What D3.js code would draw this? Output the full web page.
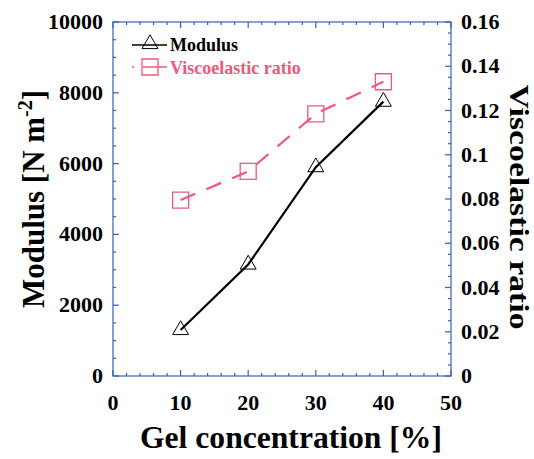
<!DOCTYPE html>
<html>
<head>
<meta charset="utf-8">
<script src="https://cdn.jsdelivr.net/npm/d3@7"></script>
<style>
body { margin: 0; background: #fff; }
text { font-family: "Liberation Serif", "Times New Roman", serif; font-weight: bold; }
</style>
</head>
<body>
<div id="chart"></div>
<script>
var concentration = [10, 20, 30, 40];
var modulus = [1300, 3150, 5900, 7750];
var viscoRatio = [0.0795, 0.0925, 0.1185, 0.133];
var xTicks = [0, 10, 20, 30, 40, 50];
var yLeftTicks = [0, 2000, 4000, 6000, 8000, 10000];
var yRightTicks = [0, 0.02, 0.04, 0.06, 0.08, 0.1, 0.12, 0.14, 0.16];

var width = 534, height = 459;
var plotL = 113, plotR = 451, plotT = 22, plotB = 376;
var axisColor = "#3a5fb0";
var pink = "#f0587a";

var svg = d3.select("#chart").append("svg")
    .attr("width", width)
    .attr("height", height);

var x = d3.scaleLinear().domain([0, 50]).range([plotL, plotR]);
var yL = d3.scaleLinear().domain([0, 10000]).range([plotB, plotT]);
var yR = d3.scaleLinear().domain([0, 0.16]).range([plotB, plotT]);

// frame
svg.append("rect")
    .attr("x", plotL).attr("y", plotT)
    .attr("width", plotR - plotL).attr("height", plotB - plotT)
    .attr("fill", "none").attr("stroke", axisColor).attr("stroke-width", 1.2);

// ticks, pointing inward (bottom + top)
d3.range(0, 51, 2).forEach(function (v) {
    var len = v % 10 === 0 ? 6 : 3;
    svg.append("line").attr("x1", x(v)).attr("x2", x(v))
        .attr("y1", plotB).attr("y2", plotB - len)
        .attr("stroke", axisColor).attr("stroke-width", 1.2);
    svg.append("line").attr("x1", x(v)).attr("x2", x(v))
        .attr("y1", plotT).attr("y2", plotT + len)
        .attr("stroke", axisColor).attr("stroke-width", 1.2);
});

d3.range(0, 10001, 500).forEach(function (v) {
    var len = v % 2000 === 0 ? 6 : 3;
    svg.append("line").attr("x1", plotL).attr("x2", plotL + len)
        .attr("y1", yL(v)).attr("y2", yL(v))
        .attr("stroke", axisColor).attr("stroke-width", 1.2);
});
d3.range(0, 33).forEach(function (i) {
    var v = i * 0.005;
    var len = i % 4 === 0 ? 6 : 3;
    svg.append("line").attr("x1", plotR).attr("x2", plotR - len)
        .attr("y1", yR(v)).attr("y2", yR(v))
        .attr("stroke", axisColor).attr("stroke-width", 1.2);
});

// tick labels
svg.selectAll(".xl").data(xTicks).enter().append("text")
    .attr("x", function (d) { return x(d); })
    .attr("y", 410)
    .attr("text-anchor", "middle")
    .attr("font-size", 22)
    .text(function (d) { return d; });

svg.selectAll(".yl").data(yLeftTicks).enter().append("text")
    .attr("x", 103)
    .attr("y", function (d) { return yL(d) + 7; })
    .attr("text-anchor", "end")
    .attr("font-size", 22)
    .text(function (d) { return d; });

svg.selectAll(".yr").data(yRightTicks).enter().append("text")
    .attr("x", 461)
    .attr("y", function (d) { return yR(d) + 7; })
    .attr("text-anchor", "start")
    .attr("font-size", 22)
    .text(function (d) { return d; });

// axis titles
svg.append("text")
    .attr("x", 291).attr("y", 448)
    .attr("text-anchor", "middle")
    .attr("font-size", 32)
    .attr("textLength", 302).attr("lengthAdjust", "spacingAndGlyphs")
    .text("Gel concentration [%]");

var lt = svg.append("text")
    .attr("transform", "translate(44,199) rotate(-90)")
    .attr("text-anchor", "middle")
    .attr("font-size", 31);
lt.append("tspan").text("Modulus [N m");
lt.append("tspan").attr("dy", -12).attr("font-size", 20).text("-2");
lt.append("tspan").attr("dy", 12).text("]");

svg.append("text")
    .attr("transform", "translate(510,207) rotate(90)")
    .attr("text-anchor", "middle")
    .attr("font-size", 28)
    .attr("textLength", 245).attr("lengthAdjust", "spacingAndGlyphs")
    .text("Viscoelastic ratio");

// series
var modPts = concentration.map(function (c, i) { return [x(c), yL(modulus[i])]; });
var visPts = concentration.map(function (c, i) { return [x(c), yR(viscoRatio[i])]; });

svg.append("path")
    .attr("d", d3.line()(visPts))
    .attr("fill", "none").attr("stroke", pink).attr("stroke-width", 2.2)
    .attr("stroke-dasharray", "16,12");

svg.append("path")
    .attr("d", d3.line()(modPts))
    .attr("fill", "none").attr("stroke", "#000").attr("stroke-width", 2.2);

var tri = d3.symbol().type(d3.symbolTriangle).size(110);
var sq = d3.symbol().type(d3.symbolSquare).size(256);

svg.selectAll(".tri").data(modPts).enter().append("path")
    .attr("transform", function (d) { return "translate(" + d[0] + "," + d[1] + ")"; })
    .attr("d", tri)
    .attr("fill", "none").attr("stroke", "#000").attr("stroke-width", 1);

svg.selectAll(".sq").data(visPts).enter().append("path")
    .attr("transform", function (d) { return "translate(" + d[0] + "," + d[1] + ")"; })
    .attr("d", sq)
    .attr("fill", "none").attr("stroke", pink).attr("stroke-width", 1.3);

// legend
svg.append("line").attr("x1", 132).attr("x2", 167).attr("y1", 45).attr("y2", 45)
    .attr("stroke", "#000").attr("stroke-width", 1.5);
svg.append("path").attr("transform", "translate(150,44)").attr("d", tri)
    .attr("fill", "none").attr("stroke", "#000").attr("stroke-width", 1);
svg.append("text").attr("x", 170).attr("y", 51).attr("font-size", 18).text("Modulus");

svg.append("line").attr("x1", 132).attr("x2", 167).attr("y1", 67).attr("y2", 67)
    .attr("stroke", pink).attr("stroke-width", 1.5).attr("stroke-dasharray", "2,9,30");
svg.append("path").attr("transform", "translate(150,67)").attr("d", sq)
    .attr("fill", "none").attr("stroke", pink).attr("stroke-width", 1.3);
svg.append("text").attr("x", 170).attr("y", 74).attr("font-size", 18)
    .attr("fill", pink).text("Viscoelastic ratio");
</script>
</body>
</html>
